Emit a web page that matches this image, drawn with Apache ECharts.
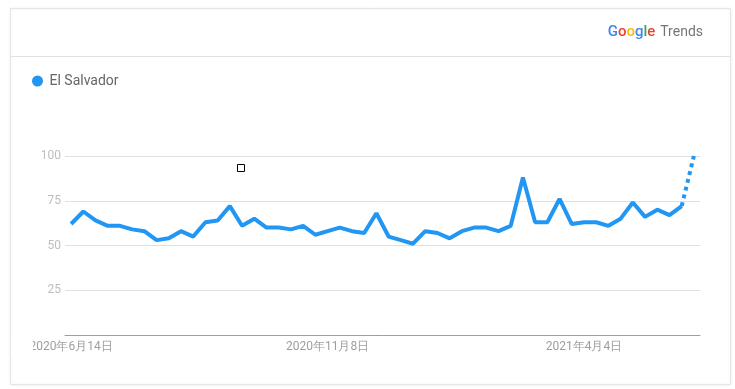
<!DOCTYPE html>
<html>
<head>
<meta charset="utf-8">
<script src="https://cdn.jsdelivr.net/npm/echarts@6/dist/echarts.min.js"></script>
<style>
html,body{margin:0;padding:0;background:#fff;}
#c{width:735px;height:389px;}
</style>
</head>
<body>
<div id="c"></div>
<script>
// Weekly dates from 2020-06-14
const categories = (function(){
  const out = [];
  const start = new Date(Date.UTC(2020,5,14));
  for (let i = 0; i < 52; i++) {
    const d = new Date(start.getTime() + i*7*86400000);
    out.push(d.getUTCFullYear() + '年' + (d.getUTCMonth()+1) + '月' + d.getUTCDate() + '日');
  }
  return out;
})();
const seriesName = 'El Salvador';
const values = [62,69,64,61,61,59,58,53,54,58,55,63,64,72,61,65,60,60,59,61,56,58,60,58,57,68,55,53,51,58,57,54,58,60,60,58,61,88,63,63,76,62,63,63,61,65,74,66,70,67,72,100];
const yTicks = [0,25,50,75,100];

const partialFrom = values.length - 2;
const solidData = values.map((v,i)=> i <= partialFrom ? v : '-');
const dottedData = values.map((v,i)=> i >= partialFrom ? v : '-');
const lineColor = '#2196f3';

const chart = echarts.init(document.getElementById('c'));
chart.setOption({
  animation: false,
  backgroundColor: '#fff',
  title: {
    right: 32, top: 23, padding: 0,
    text: '{b|G}{r|o}{y|o}{b|g}{g|l}{r|e} {t|Trends}',
    textStyle: {
      fontWeight: 'normal',
      rich: {
        b: {color:'#4285f4', fontSize:15, fontFamily:'Roboto', fontWeight:500},
        r: {color:'#ea4335', fontSize:15, fontFamily:'Roboto', fontWeight:500},
        y: {color:'#fbbc05', fontSize:15, fontFamily:'Roboto', fontWeight:500},
        g: {color:'#34a853', fontSize:15, fontFamily:'Roboto', fontWeight:500},
        t: {color:'#757575', fontSize:14, fontFamily:'Roboto', fontWeight:'normal'}
      }
    }
  },
  legend: {
    left: 32, top: 74, padding: 0,
    icon: 'circle', itemWidth: 14, itemHeight: 11, itemGap: 10,
    data: [seriesName],
    textStyle: {color:'#666', fontSize:14, fontFamily:'Roboto'}
  },
  grid: {left: 65, right: 35, top: 156, bottom: 54},
  xAxis: {
    type: 'category', data: categories, boundaryGap: true,
    axisLine: {lineStyle: {color:'#9e9e9e', width:1}},
    axisTick: {show:false},
    axisLabel: {interval: 20, color:'#9e9e9e', fontSize:12, fontFamily:'Roboto', margin:6},
    splitLine: {show:false}
  },
  yAxis: {
    type: 'value', min: yTicks[0], max: yTicks[yTicks.length-1], interval: 25,
    axisLine: {show:false}, axisTick: {show:false},
    axisLabel: {color:'#bdbdbd', fontSize:12, fontFamily:'Roboto', margin:4,
      formatter: v => v === 0 ? '' : String(v)},
    splitLine: {lineStyle: {color:'#e0e0e0', width:1}}
  },
  series: [
    {name: seriesName, type:'line', data: solidData, symbol:'none', smooth:false,
     lineStyle:{color:lineColor, width:4}, itemStyle:{color:lineColor}},
    {name: seriesName, type:'line', data: dottedData, symbol:'none',
     lineStyle:{color:lineColor, width:4, type:[4,4]}, itemStyle:{color:lineColor}}
  ],
  graphic: [
    {type:'rect', z:-10, shape:{x:10.5, y:8.5, width:720, height:376},
     style:{fill:'#fff', stroke:'#e6e6e6', lineWidth:1, shadowBlur:3, shadowColor:'rgba(0,0,0,0.08)'}},
    {type:'line', z:-9, shape:{x1:11, y1:56.5, x2:730, y2:56.5}, style:{stroke:'#e0e0e0', lineWidth:1}},
    {type:'rect', z:100, shape:{x:11, y:338, width:22, height:18}, style:{fill:'#fff'}},
    {type:'rect', z:100, shape:{x:237.5, y:164.5, width:7, height:7}, style:{fill:'#fff', stroke:'#000', lineWidth:1}}
  ]
});
</script>
</body>
</html>
